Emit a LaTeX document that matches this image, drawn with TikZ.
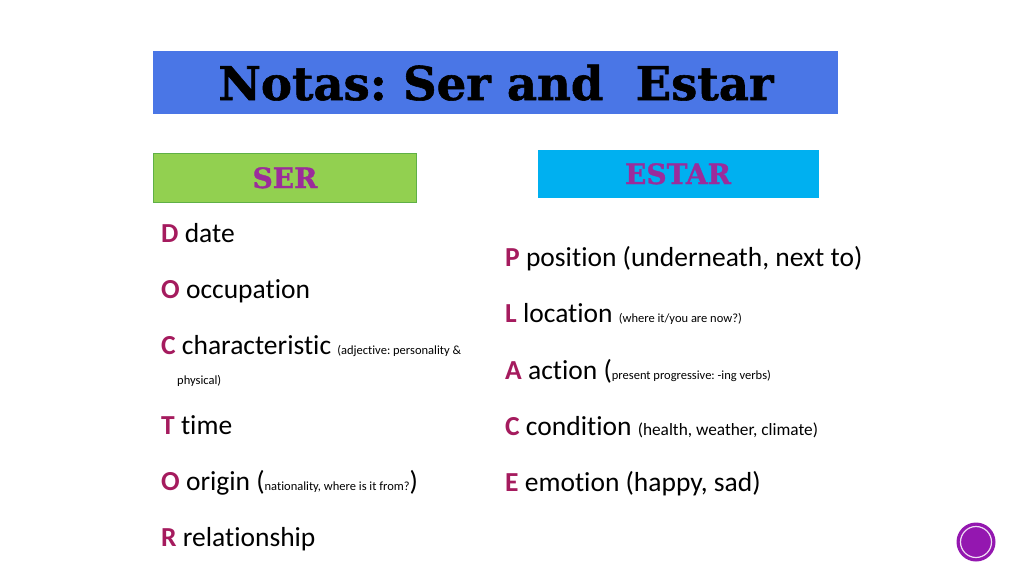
\documentclass[tikz,border=0pt]{standalone}
\usepackage{fontspec}
\setmainfont[Ligatures=NoCommon]{Carlito}
\newfontfamily\titlefont[BoldFeatures={FakeBold=1.2}]{DejaVu Serif}
\frenchspacing
\definecolor{titleblue}{HTML}{4A76E6}
\definecolor{sergreen}{HTML}{92D050}
\definecolor{sergreenb}{HTML}{5FB046}
\definecolor{estarcyan}{HTML}{00B0F0}
\definecolor{headpurple}{HTML}{9B2C9B}
\definecolor{keyred}{HTML}{A51B5E}
\definecolor{dotpurple}{HTML}{9417B0}
\begin{document}
\begin{tikzpicture}[x=1pt,y=-1pt,
  item/.style={anchor=base west,inner sep=0pt,font=\fontsize{27.5}{28}\selectfont},
  small/.style={anchor=base west,inner sep=0pt,font=\fontsize{12.5}{13}\selectfont},
  head/.style={font=\titlefont\bfseries\fontsize{28}{28}\selectfont,text=headpurple}]
\useasboundingbox (0,0) rectangle (1024,576);
\fill[white] (0,0) rectangle (1024,576);
% title
\fill[titleblue] (153,51) rectangle (838,114);
\node[anchor=base,inner sep=0pt,font=\titlefont\bfseries\fontsize{46.5}{47}\selectfont] (title) at (496,100) {Notas: Ser and\ \ Estar};
% headers
\node[draw=sergreenb,line width=1pt,fill=sergreen,minimum width=263pt,minimum height=49pt,inner sep=0pt] (serbox) at (284.5,177.5) {};
\node[head,anchor=base] (sertxt) at (285,188) {SER};
\node[fill=estarcyan,minimum width=281pt,minimum height=48pt,inner sep=0pt] (estarbox) at (678.5,174) {};
\node[head,anchor=base] (estartxt) at (678,184) {ESTAR};
% SER list
\node[item] (d) at (161,242) {\textcolor{keyred}{\textbf{D}} date};
\node[item] (o1) at (161,298) {\textcolor{keyred}{\textbf{O}} occupation};
\node[item] (c1) at (161,354) {\textcolor{keyred}{\textbf{C}} characteristic \fontsize{12.5}{13}\selectfont(adjective: personality \&};
\node[small] (phys) at (177,384) {physical)};
\node[item] (t) at (161,434) {\textcolor{keyred}{\textbf{T}} time};
\node[item] (o2) at (161,490) {\textcolor{keyred}{\textbf{O}} origin ({\fontsize{12.5}{13}\selectfont nationality, where is it from?})};
\node[item] (r) at (161,546) {\textcolor{keyred}{\textbf{R}} relationship};
% ESTAR list
\node[item] (p) at (505,266) {\textcolor{keyred}{\textbf{P}} position (underneath, next to)};
\node[item] (l) at (505,322) {\textcolor{keyred}{\textbf{L}} location \fontsize{12.5}{13}\selectfont(where it/you are now?)};
\node[item] (a) at (505,379) {\textcolor{keyred}{\textbf{A}} action ({\fontsize{12.5}{13}\selectfont present progressive: -ing verbs)}};
\node[item] (c2) at (505,435) {\textcolor{keyred}{\textbf{C}} condition {\fontsize{17.3}{18}\selectfont(health, weather, climate)}};
\node[item] (e) at (505,491) {\textcolor{keyred}{\textbf{E}} emotion (happy, sad)};
% page dot
\fill[dotpurple] (976,542) circle (19.5);
\draw[white!85!dotpurple,line width=1.2pt] (976,542) circle (15.5);
\end{tikzpicture}
\end{document}
